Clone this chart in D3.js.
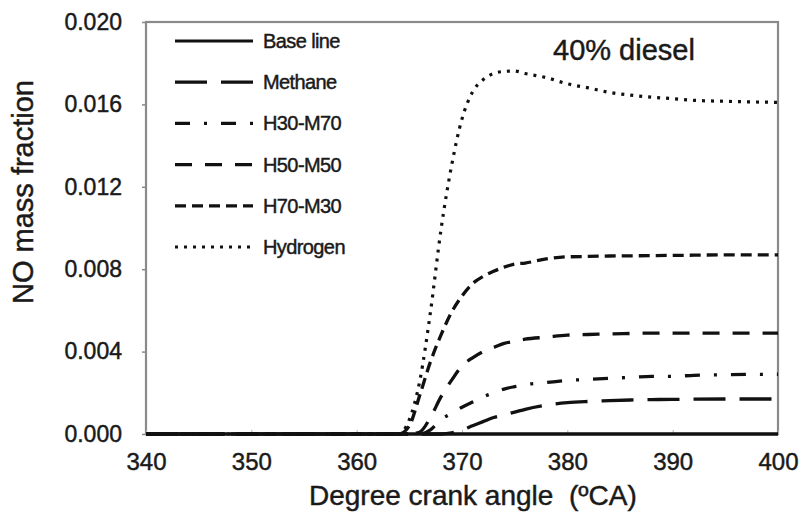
<!DOCTYPE html>
<html>
<head>
<meta charset="utf-8">
<script src="https://cdn.jsdelivr.net/npm/d3@7"></script>
<style>
  html, body { margin: 0; padding: 0; background: #fff; }
  svg { display: block; }
  text { font-family: "Liberation Sans", Arial, sans-serif; fill: #1a1a1a; stroke: #1a1a1a; stroke-width: 0.45px; }
</style>
</head>
<body>
<svg id="chart" width="802" height="514"></svg>
<script>
// ---- data ----
const crankAngle = [340, 350, 360, 364, 365, 366, 367, 368, 369, 370, 371, 372, 373, 374, 375, 376, 378, 380, 382, 384, 386, 388, 390, 392, 395, 400];
const baseLine   = [0, 0, 0, 0, 0, 0, 0, 0, 0, 0, 0, 0, 0, 0, 0, 0, 0, 0, 0, 0, 0, 0, 0, 0, 0, 0];
const methane    = [0, 0, 0, 0, 0, 0, 0, 0, 0.00005, 0.0002, 0.0004, 0.0006, 0.0008, 0.00093, 0.00106, 0.0012, 0.0014, 0.00152, 0.00158, 0.00162, 0.00165, 0.00167, 0.00168, 0.00169, 0.0017, 0.0017];
const h30m70     = [0, 0, 0, 0, 0, 0, 0.0002, 0.0007, 0.0010, 0.0013, 0.00155, 0.0018, 0.0020, 0.00218, 0.0023, 0.0024, 0.0025, 0.0026, 0.00265, 0.0027, 0.00275, 0.0028, 0.0028, 0.00285, 0.00288, 0.0029];
const h50m50     = [0, 0, 0, 0, 0, 0.0001, 0.0008, 0.0018, 0.0026, 0.0033, 0.0037, 0.0040, 0.0042, 0.0044, 0.0045, 0.0046, 0.0047, 0.0048, 0.00483, 0.00486, 0.00488, 0.0049, 0.0049, 0.0049, 0.0049, 0.0049];
const h70m30     = [0, 0, 0, 0, 0.0004, 0.0019, 0.0035, 0.0048, 0.0059, 0.0067, 0.0073, 0.00765, 0.0079, 0.0081, 0.00825, 0.0083, 0.0085, 0.0086, 0.00862, 0.00864, 0.00865, 0.00866, 0.00867, 0.00868, 0.0087, 0.0087];
const hydrogen   = [0, 0, 0, 0, 0.0007, 0.0026, 0.0059, 0.0099, 0.0130, 0.0153, 0.0166, 0.0172, 0.0175, 0.0176, 0.01762, 0.0175, 0.0173, 0.0170, 0.0168, 0.01658, 0.01645, 0.01635, 0.01628, 0.0162, 0.01615, 0.0161];

const seriesNames = ["Base line", "Methane", "H30-M70", "H50-M50", "H70-M30", "Hydrogen"];
const seriesValues = [baseLine, methane, h30m70, h50m50, h70m30, hydrogen];

const xTicks = [340, 350, 360, 370, 380, 390, 400];
const yTicks = [0, 0.004, 0.008, 0.012, 0.016, 0.020];

// ---- styles ----
const dashes = ["none", "32,14", "15,14,3,14", "17,13", "11,6", "3,6"];

const svg = d3.select("#chart");
const L = 146, R = 778, T = 22, B = 434;

const x = d3.scaleLinear().domain([340, 400]).range([L, R]);
const y = d3.scaleLinear().domain([0, 0.020]).range([B, T]);

// frame
svg.append("rect")
  .attr("x", L).attr("y", T).attr("width", R - L).attr("height", B - T)
  .attr("fill", "none").attr("stroke", "#8a8a8a").attr("stroke-width", 2.2);

// y axis
const yAxis = svg.append("g").attr("transform", `translate(${L},0)`)
  .call(d3.axisLeft(y).tickValues(yTicks).tickFormat(d3.format(".3f")).tickSizeInner(4).tickSizeOuter(0).tickPadding(20));
yAxis.select(".domain").remove();
yAxis.selectAll(".tick line").attr("stroke", "#8a8a8a").attr("stroke-width", 1.5);
yAxis.selectAll(".tick text").style("font-size", "23px").style("font-family", "Liberation Sans, Arial, sans-serif").attr("fill", "#1a1a1a");

// x axis
const xAxis = svg.append("g").attr("transform", `translate(0,${B})`)
  .call(d3.axisBottom(x).tickValues(xTicks).tickFormat(d3.format("d")).tickSizeInner(-4).tickSizeOuter(0).tickPadding(19));
xAxis.select(".domain").remove();
xAxis.selectAll(".tick line").attr("stroke", "#b0b0b0").attr("stroke-width", 1);
xAxis.selectAll(".tick text").style("font-size", "24px").style("font-family", "Liberation Sans, Arial, sans-serif").attr("fill", "#1a1a1a");

// lines
const line = d3.line()
  .x((d, i) => x(crankAngle[i]))
  .y(d => y(d))
  .curve(d3.curveMonotoneX);

const order = [5, 4, 3, 2, 1, 0];
order.forEach(k => {
  svg.append("path")
    .datum(seriesValues[k])
    .attr("d", line)
    .attr("fill", "none")
    .attr("stroke", "#111")
    .attr("stroke-width", k === 5 ? 3.2 : 3.3)
    .attr("stroke-dasharray", dashes[k]);
});

// legend
const legend = svg.append("g");
seriesNames.forEach((name, i) => {
  const ly = 41 + i * 41.2;
  legend.append("line")
    .attr("x1", 175).attr("x2", 253).attr("y1", ly).attr("y2", ly)
    .attr("stroke", "#111").attr("stroke-width", 3.2)
    .attr("stroke-dasharray", dashes[i]);
  legend.append("text")
    .attr("x", 263).attr("y", ly + 7)
    .style("font-size", "20px")
    .style("letter-spacing", "-0.6px")
    .text(name);
});

// annotation
svg.append("text")
  .attr("x", 553).attr("y", 60)
  .style("font-size", "29px")
  .text("40% diesel");

// axis titles
svg.append("text")
  .attr("x", 309).attr("y", 505)
  .style("font-size", "28px")
  .style("white-space", "pre")
  .text("Degree crank angle  (ºCA)");

svg.append("text")
  .attr("transform", "translate(33,192) rotate(-90)")
  .attr("text-anchor", "middle")
  .style("font-size", "29px")
  .text("NO mass fraction");
</script>
</body>
</html>
